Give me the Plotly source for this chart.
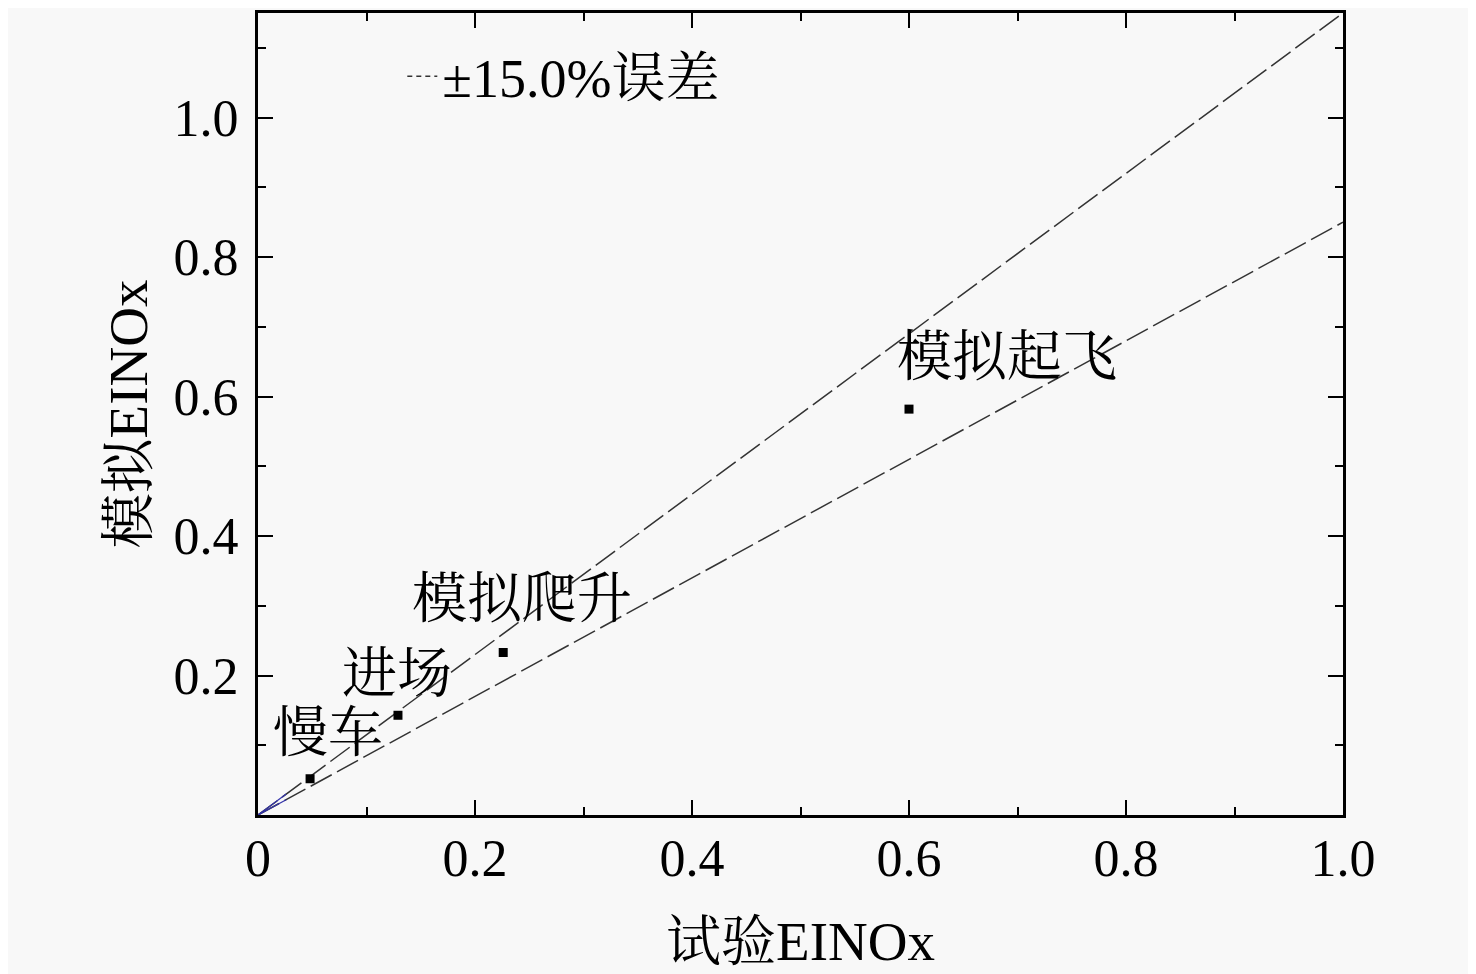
import plotly.graph_objects as go

# data
labels = ["慢车", "进场", "模拟爬升", "模拟起飞"]
exp_vals = [0.048, 0.129, 0.226, 0.600]
sim_vals = [0.052, 0.143, 0.233, 0.582]
err_x = [0.0, 1.0]
upper_y = [0.0, 1.15]
lower_y = [0.0, 0.85]
blue_x = [0.0, 0.026]
blue_up = [0.0, 0.030]
blue_lo = [0.0, 0.022]
x_ticks = [0, 0.2, 0.4, 0.6, 0.8, 1.0]
x_ticktext = ["0", "0.2", "0.4", "0.6", "0.8", "1.0"]
y_ticks = [0.2, 0.4, 0.6, 0.8, 1.0]
y_ticktext = ["0.2", "0.4", "0.6", "0.8", "1.0"]
label_offsets = [(0.0165, 0.066), (-0.001, 0.060), (0.017, 0.077), (0.090, 0.075)]

FONT = "Liberation Serif, Times New Roman, Noto Serif CJK SC, Noto Sans CJK SC, serif"
BG = "#f8f8f8"

fig = go.Figure()
# legend-only entry (short dashes as in the reference legend)
fig.add_trace(go.Scatter(x=[None], y=[None], mode="lines", name="±15.0%误差",
                         line=dict(color="#333333", width=1.5, dash="5px,4px")))
fig.add_trace(go.Scatter(x=err_x, y=upper_y, mode="lines", showlegend=False,
                         line=dict(color="#333333", width=1.5, dash="24px,6px")))
fig.add_trace(go.Scatter(x=err_x, y=lower_y, mode="lines", showlegend=False,
                         line=dict(color="#333333", width=1.5, dash="24px,6px")))
fig.add_trace(go.Scatter(x=blue_x, y=blue_up, mode="lines", showlegend=False,
                         line=dict(color="#3333aa", width=1.2)))
fig.add_trace(go.Scatter(x=blue_x, y=blue_lo, mode="lines", showlegend=False,
                         line=dict(color="#3333aa", width=1.2)))
fig.add_trace(go.Scatter(x=exp_vals, y=sim_vals, mode="markers", showlegend=False,
                         marker=dict(symbol="square", size=9, color="black")))

for lab, xv, yv, (dx, dy) in zip(labels, exp_vals, sim_vals, label_offsets):
    fig.add_annotation(x=xv + dx, y=yv + dy, text=lab, showarrow=False,
                       font=dict(family=FONT, size=55, color="black"))

axis_common = dict(showline=True, linecolor="black", linewidth=3, mirror="allticks",
                   ticks="inside", ticklen=15, tickwidth=2, tickcolor="black",
                   showgrid=False, zeroline=False,
                   tickfont=dict(family=FONT, size=52, color="black"))

fig.update_xaxes(range=[0, 1.0], tickvals=x_ticks, ticktext=x_ticktext,
                 minor=dict(ticks="inside", ticklen=8, tickwidth=2, dtick=0.1, tick0=0,
                            tickcolor="black", showgrid=False),
                 title=dict(text="试验EINOx", font=dict(family=FONT, size=55, color="black"),
                            standoff=36),
                 ticklabelstandoff=-4, **axis_common)
fig.update_yaxes(range=[0, 1.15], tickvals=y_ticks, ticktext=y_ticktext,
                 minor=dict(ticks="inside", ticklen=8, tickwidth=2, dtick=0.1, tick0=0,
                            tickcolor="black", showgrid=False),
                 title=dict(text="模拟EINOx", font=dict(family=FONT, size=55, color="black"),
                            standoff=9),
                 ticklabelstandoff=6, **axis_common)

fig.update_layout(
    width=1476, height=974,
    margin=dict(l=250, r=141, t=2, b=167),
    paper_bgcolor=BG, plot_bgcolor=BG,
    font=dict(family=FONT, size=50, color="black"),
    legend=dict(x=0.133, y=0.973, xanchor="left", yanchor="top",
                bgcolor="rgba(0,0,0,0)", font=dict(family=FONT, size=54)),
)

fig.write_html("out.html")
